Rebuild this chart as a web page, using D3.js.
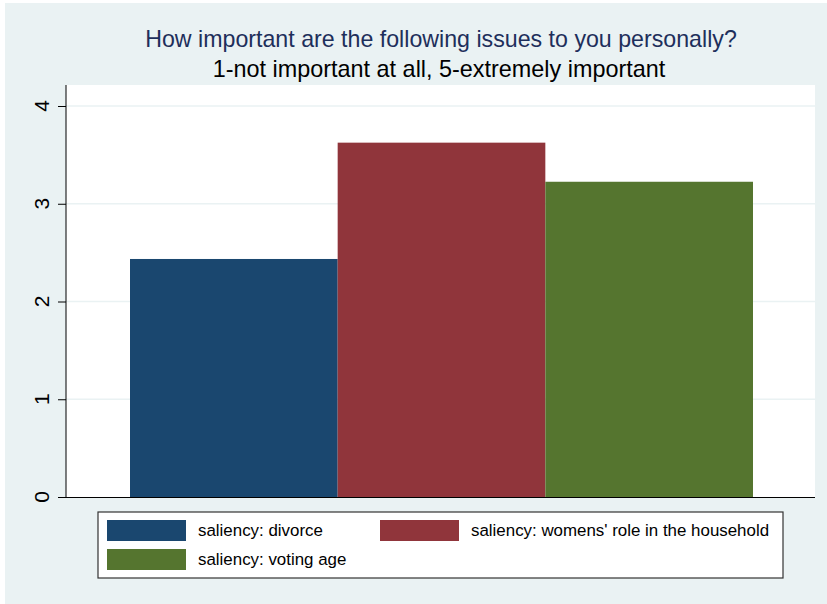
<!DOCTYPE html>
<html><head><meta charset="utf-8">
<script src="https://cdn.jsdelivr.net/npm/d3@7"></script>
<style>body{margin:0;background:#fff}svg{display:block;font-family:"Liberation Sans",Arial,sans-serif}</style>
</head><body>
<svg id="c" width="827" height="604"></svg>
<script>
const categories = ["saliency: divorce", "saliency: womens' role in the household", "saliency: voting age"];
const values = [2.435, 3.625, 3.225];
const colors = ["#1A476F", "#90353B", "#55752F"];
const yTicks = [0, 1, 2, 3, 4];
const title = "How important are the following issues to you personally?";
const subtitle = "1-not important at all, 5-extremely important";

const svg = d3.select("#c");
svg.append("rect").attr("x",5).attr("y",3).attr("width",822).attr("height",601).attr("fill","#EAF2F3");

const L=66, R=815, T=85, B=497;
svg.append("rect").attr("x",L).attr("y",T).attr("width",R-L).attr("height",B-T).attr("fill","#fff");

const y = d3.scaleLinear().domain([0,4]).range([B, B-4*97.75]);
const x = d3.scaleBand().domain(categories).range([130,753]).padding(0);

// gridlines
svg.append("g").selectAll("line").data(yTicks.filter(d=>d>0)).join("line")
  .attr("x1",L).attr("x2",R).attr("y1",d=>y(d)).attr("y2",d=>y(d))
  .attr("stroke","#EAF2F3").attr("stroke-width",1.5);

// bars
svg.append("g").selectAll("rect").data(categories).join("rect")
  .attr("x",d=>x(d)).attr("width",x.bandwidth())
  .attr("y",(d,i)=>y(values[i])).attr("height",(d,i)=>B-y(values[i]))
  .attr("fill",(d,i)=>colors[i]);

// y axis
const ya = svg.append("g").attr("transform",`translate(${L},0)`)
  .call(d3.axisLeft(y).tickValues(yTicks).tickSize(8).tickFormat(""));
ya.select(".domain").attr("stroke","#000").attr("d",`M0,${B}V${T}`);
ya.selectAll(".tick line").attr("stroke","#000");
svg.append("g").selectAll("text").data(yTicks).join("text")
  .attr("transform",d=>`translate(41.5,${y(d)}) rotate(-90)`)
  .attr("text-anchor","middle").attr("dy","0.36em")
  .style("font-size","21px").attr("fill","#000").text(d=>d3.format("d")(d));

// x axis line
svg.append("line").attr("x1",L-0.5).attr("x2",R).attr("y1",B+0.5).attr("y2",B+0.5).attr("stroke","#000");

// titles
svg.append("text").attr("x",441).attr("y",47).attr("text-anchor","middle").style("font-size","23.2px").attr("fill","#1E2F5B").text(title);
svg.append("text").attr("x",439).attr("y",77).attr("text-anchor","middle").style("font-size","23.4px").attr("fill","#000").text(subtitle);

// legend
svg.append("rect").attr("x",98).attr("y",512).attr("width",685).attr("height",66).attr("fill","#fff").attr("stroke","#333").attr("stroke-width",1.2);
const lpos = [[107,520],[380,520],[107,549]];
const lg = svg.append("g").selectAll("g").data(categories).join("g")
  .attr("transform",(d,i)=>`translate(${lpos[i][0]},${lpos[i][1]})`);
lg.append("rect").attr("width",79).attr("height",21).attr("fill",(d,i)=>colors[i]);
lg.append("text").attr("x",91).attr("y",16).style("font-size","16.9px").attr("fill","#000").text(d=>d);
</script>
</body></html>
